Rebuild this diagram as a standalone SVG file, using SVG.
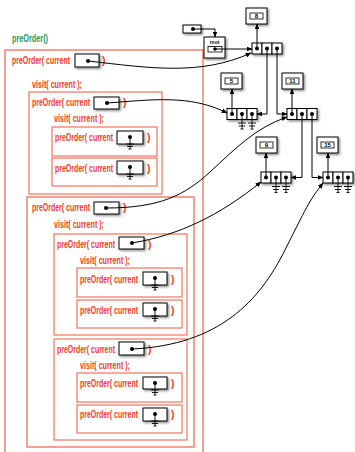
<svg xmlns="http://www.w3.org/2000/svg" xmlns:xlink="http://www.w3.org/1999/xlink" width="355" height="452" viewBox="0 0 355 452">
  <style>
    .lbl { fill: #f0401f; font-family: "Liberation Sans Narrow", "Liberation Sans", sans-serif; font-size: 10.5px; font-weight: bold; }
    .title { fill: #1f9a5c; font-family: "Liberation Sans Narrow", "Liberation Sans", sans-serif; font-size: 10.5px; font-weight: bold; }
    .frame { fill: none; stroke: #f2563d; stroke-width: 1; }
    .bigframe { fill: none; stroke: #f5806c; stroke-width: 1.5; }
    .ptr { fill: #fff; stroke: #000; stroke-width: 1; filter: url(#shadow); }
    .cell { fill: #fff; stroke: #000; stroke-width: 1; }
    .val { fill: #fff; stroke: #000; stroke-width: 1; filter: url(#shadow); }
    .vin { fill: #fff; stroke: #000; stroke-width: 0.8; }
    .num { font-family: "Liberation Sans", sans-serif; font-size: 6px; font-weight: bold; fill: #000; text-anchor: middle; }
    .dot { fill: #000; }
    .link { fill: none; stroke: #000; stroke-width: 1; }
    .nul { fill: none; stroke: #000; stroke-width: 0.9; }
  </style>
  <defs>
    <filter id="shadow" x="-30%" y="-30%" width="170%" height="170%">
      <feDropShadow dx="1.5" dy="1.5" stdDeviation="1" flood-color="#000" flood-opacity="0.45"/>
    </filter>
    <marker id="arr" viewBox="0 0 10 10" refX="9" refY="5" markerWidth="6" markerHeight="6" orient="auto" markerUnits="userSpaceOnUse">
      <path d="M0,1 L10,5 L0,9 z" fill="#000"/>
    </marker>
    <!-- null pointer ground symbol, origin at the dot -->
    <path id="nulp" class="nul" d="M0,0 V12 M-4,7 H4 M-3,9.5 H3 M-1.5,12 H1.5"/>
    <path id="nult" class="nul" d="M0,0 V15 M-4,9 H4 M-3,12 H3 M-1.5,15 H1.5"/>
  </defs>

  <text class="title" x="12" y="42" textLength="36" lengthAdjust="spacingAndGlyphs">preOrder()</text>

  <!-- call frames -->
  <g id="call-root">
    <rect class="bigframe" x="5" y="50" width="198" height="420"/>
    <text class="lbl" x="12" y="64" textLength="58" lengthAdjust="spacingAndGlyphs">preOrder( current</text>
    <rect class="ptr" x="75" y="54" width="24" height="13"/>
    <circle class="dot" cx="88" cy="61" r="2"/>
    <text class="lbl" x="102" y="64">)</text>
    <text class="lbl" x="32" y="88" textLength="50" lengthAdjust="spacingAndGlyphs">visit( current );</text>
  </g>

  <g id="call-5">
    <rect class="frame" x="29" y="92" width="133" height="102"/>
    <text class="lbl" x="32" y="106" textLength="58" lengthAdjust="spacingAndGlyphs">preOrder( current</text>
    <rect class="ptr" x="94" y="97" width="25" height="12"/>
    <circle class="dot" cx="107" cy="103" r="2"/>
    <text class="lbl" x="123" y="106">)</text>
    <text class="lbl" x="54" y="122" textLength="50" lengthAdjust="spacingAndGlyphs">visit( current );</text>
  </g>
  <g id="call-5-left">
    <rect class="frame" x="52" y="127" width="105" height="29"/>
    <text class="lbl" x="55" y="141" textLength="58" lengthAdjust="spacingAndGlyphs">preOrder( current</text>
    <rect class="ptr" x="117" y="131" width="26" height="13"/>
    <circle class="dot" cx="130" cy="137" r="2"/>
    <use xlink:href="#nulp" x="130" y="137"/>
    <text class="lbl" x="147" y="141">)</text>
  </g>
  <g id="call-5-right">
    <rect class="frame" x="52" y="158" width="105" height="28"/>
    <text class="lbl" x="55" y="172" textLength="58" lengthAdjust="spacingAndGlyphs">preOrder( current</text>
    <rect class="ptr" x="117" y="161" width="26" height="13"/>
    <circle class="dot" cx="130" cy="167" r="2"/>
    <use xlink:href="#nulp" x="130" y="167"/>
    <text class="lbl" x="147" y="172">)</text>
  </g>

  <g id="call-11">
    <rect class="bigframe" x="27" y="197" width="167" height="250"/>
    <text class="lbl" x="32" y="211" textLength="58" lengthAdjust="spacingAndGlyphs">preOrder( current</text>
    <rect class="ptr" x="94" y="202" width="25" height="12"/>
    <circle class="dot" cx="106" cy="208" r="2"/>
    <text class="lbl" x="123" y="211">)</text>
    <text class="lbl" x="54" y="228" textLength="50" lengthAdjust="spacingAndGlyphs">visit( current );</text>
  </g>

  <g id="call-9">
    <rect class="frame" x="54" y="234" width="133" height="101"/>
    <text class="lbl" x="57" y="248" textLength="58" lengthAdjust="spacingAndGlyphs">preOrder( current</text>
    <rect class="ptr" x="119" y="237" width="25" height="12"/>
    <circle class="dot" cx="132" cy="243" r="2"/>
    <text class="lbl" x="148" y="248">)</text>
    <text class="lbl" x="80" y="264" textLength="50" lengthAdjust="spacingAndGlyphs">visit( current );</text>
  </g>
  <g id="call-9-left">
    <rect class="frame" x="77" y="268" width="105" height="29"/>
    <text class="lbl" x="80" y="283" textLength="58" lengthAdjust="spacingAndGlyphs">preOrder( current</text>
    <rect class="ptr" x="143" y="272" width="24" height="13"/>
    <circle class="dot" cx="155" cy="278" r="2"/>
    <use xlink:href="#nulp" x="155" y="278"/>
    <text class="lbl" x="171" y="283">)</text>
  </g>
  <g id="call-9-right">
    <rect class="frame" x="77" y="300" width="105" height="28"/>
    <text class="lbl" x="80" y="314" textLength="58" lengthAdjust="spacingAndGlyphs">preOrder( current</text>
    <rect class="ptr" x="143" y="303" width="24" height="13"/>
    <circle class="dot" cx="155" cy="309" r="2"/>
    <use xlink:href="#nulp" x="155" y="309"/>
    <text class="lbl" x="171" y="314">)</text>
  </g>

  <g id="call-15">
    <rect class="frame" x="54" y="339" width="133" height="101"/>
    <text class="lbl" x="57" y="353" textLength="58" lengthAdjust="spacingAndGlyphs">preOrder( current</text>
    <rect class="ptr" x="119" y="342" width="25" height="13"/>
    <circle class="dot" cx="132" cy="349" r="2"/>
    <text class="lbl" x="148" y="353">)</text>
    <text class="lbl" x="80" y="369" textLength="50" lengthAdjust="spacingAndGlyphs">visit( current );</text>
  </g>
  <g id="call-15-left">
    <rect class="frame" x="77" y="373" width="105" height="29"/>
    <text class="lbl" x="80" y="387" textLength="58" lengthAdjust="spacingAndGlyphs">preOrder( current</text>
    <rect class="ptr" x="143" y="377" width="24" height="12"/>
    <circle class="dot" cx="155" cy="383" r="2"/>
    <use xlink:href="#nulp" x="155" y="383"/>
    <text class="lbl" x="171" y="387">)</text>
  </g>
  <g id="call-15-right">
    <rect class="frame" x="77" y="405" width="105" height="28"/>
    <text class="lbl" x="80" y="418" textLength="58" lengthAdjust="spacingAndGlyphs">preOrder( current</text>
    <rect class="ptr" x="143" y="408" width="24" height="13"/>
    <circle class="dot" cx="155" cy="414" r="2"/>
    <use xlink:href="#nulp" x="155" y="414"/>
    <text class="lbl" x="171" y="418">)</text>
  </g>

  <!-- tree: external pointer and root reference -->
  <g id="ext">
    <rect class="ptr" x="183" y="25" width="18" height="8"/>
    <circle class="dot" cx="193" cy="29" r="2"/>
  </g>
  <g id="root">
    <rect class="val" x="204" y="37" width="21" height="21"/>
    <text x="214.5" y="44" font-family="Liberation Sans, sans-serif" font-size="5" font-weight="bold" text-anchor="middle">root</text>
    <rect class="vin" x="208" y="46.5" width="14" height="5.5"/>
    <circle class="dot" cx="215" cy="49" r="1.8"/>
  </g>

  <!-- tree nodes -->
  <g id="node-8">
    <rect class="val" x="246" y="8" width="21" height="16"/>
    <rect class="vin" x="250" y="13" width="13" height="6"/>
    <text class="num" x="256.5" y="18.2">8</text>
    <g filter="url(#shadow)">
      <rect class="cell" x="252" y="43" width="10" height="11"/>
      <rect class="cell" x="262" y="43" width="10" height="11"/>
      <rect class="cell" x="272" y="43" width="10" height="11"/>
    </g>
    <circle class="dot" cx="257" cy="48.5" r="2"/>
    <circle class="dot" cx="267" cy="48.5" r="2"/>
    <circle class="dot" cx="277" cy="48.5" r="2"/>
  </g>
  <g id="node-5">
    <rect class="val" x="221" y="73" width="21" height="16"/>
    <rect class="vin" x="225" y="78" width="13" height="6"/>
    <text class="num" x="231.5" y="83.2">5</text>
    <g filter="url(#shadow)">
      <rect class="cell" x="227" y="108.5" width="10" height="11"/>
      <rect class="cell" x="237" y="108.5" width="10" height="11"/>
      <rect class="cell" x="247" y="108.5" width="10" height="11"/>
    </g>
    <circle class="dot" cx="232" cy="114" r="2"/>
    <circle class="dot" cx="242" cy="114" r="2"/>
    <circle class="dot" cx="252" cy="114" r="2"/>
    <use xlink:href="#nult" x="242" y="114"/>
    <use xlink:href="#nult" x="252" y="114"/>
  </g>
  <g id="node-11">
    <rect class="val" x="282" y="73" width="21" height="16"/>
    <rect class="vin" x="286" y="78" width="13" height="6"/>
    <text class="num" x="292.5" y="83.2">11</text>
    <g filter="url(#shadow)">
      <rect class="cell" x="287" y="108.5" width="10" height="11"/>
      <rect class="cell" x="297" y="108.5" width="10" height="11"/>
      <rect class="cell" x="307" y="108.5" width="10" height="11"/>
    </g>
    <circle class="dot" cx="292" cy="114" r="2"/>
    <circle class="dot" cx="302" cy="114" r="2"/>
    <circle class="dot" cx="312" cy="114" r="2"/>
  </g>
  <g id="node-9">
    <rect class="val" x="256" y="137" width="21" height="16"/>
    <rect class="vin" x="260" y="142" width="13" height="6"/>
    <text class="num" x="266.5" y="147.2">9</text>
    <g filter="url(#shadow)">
      <rect class="cell" x="261" y="172" width="10" height="11"/>
      <rect class="cell" x="271" y="172" width="10" height="11"/>
      <rect class="cell" x="281" y="172" width="10" height="11"/>
    </g>
    <circle class="dot" cx="266" cy="177.5" r="2"/>
    <circle class="dot" cx="276" cy="177.5" r="2"/>
    <circle class="dot" cx="286" cy="177.5" r="2"/>
    <use xlink:href="#nult" x="276" y="177.5"/>
    <use xlink:href="#nult" x="286" y="177.5"/>
  </g>
  <g id="node-15">
    <rect class="val" x="317" y="137" width="21" height="16"/>
    <rect class="vin" x="321" y="142" width="13" height="6"/>
    <text class="num" x="327.5" y="147.2">15</text>
    <g filter="url(#shadow)">
      <rect class="cell" x="323" y="172" width="10" height="11"/>
      <rect class="cell" x="333" y="172" width="10" height="11"/>
      <rect class="cell" x="343" y="172" width="10" height="11"/>
    </g>
    <circle class="dot" cx="328" cy="177.5" r="2"/>
    <circle class="dot" cx="338" cy="177.5" r="2"/>
    <circle class="dot" cx="348" cy="177.5" r="2"/>
    <use xlink:href="#nult" x="338" y="177.5"/>
    <use xlink:href="#nult" x="348" y="177.5"/>
  </g>

  <!-- connectors -->
  <g id="connectors">
    <path class="link" d="M193,29 H215 V37" marker-end="url(#arr)"/>
    <path class="link" d="M215,49 H252" marker-end="url(#arr)"/>
    <path class="link" d="M257,48.5 V24" marker-end="url(#arr)"/>
    <path class="link" d="M267,48.5 V114 H257" marker-end="url(#arr)"/>
    <path class="link" d="M277,48.5 V114 H287" marker-end="url(#arr)"/>
    <path class="link" d="M232,114 V89" marker-end="url(#arr)"/>
    <path class="link" d="M292,114 V89" marker-end="url(#arr)"/>
    <path class="link" d="M302,114 V177.5 H291" marker-end="url(#arr)"/>
    <path class="link" d="M312,114 V177.5 H323" marker-end="url(#arr)"/>
    <path class="link" d="M266,177.5 V153" marker-end="url(#arr)"/>
    <path class="link" d="M328,177.5 V153" marker-end="url(#arr)"/>
    <!-- frame pointers into the tree -->
    <path class="link" d="M88,61 C150,68 200,76 251,53" marker-end="url(#arr)"/>
    <path class="link" d="M107,103 C150,100 190,94 227,113" marker-end="url(#arr)"/>
    <path class="link" d="M106,208 C160,208 185,195 210,172 S255,128 287,117" marker-end="url(#arr)"/>
    <path class="link" d="M132,243 C180,235 220,215 261,182" marker-end="url(#arr)"/>
    <path class="link" d="M132,349 C220,345 260,300 285,250 S310,200 323,183" marker-end="url(#arr)"/>
  </g>
</svg>
